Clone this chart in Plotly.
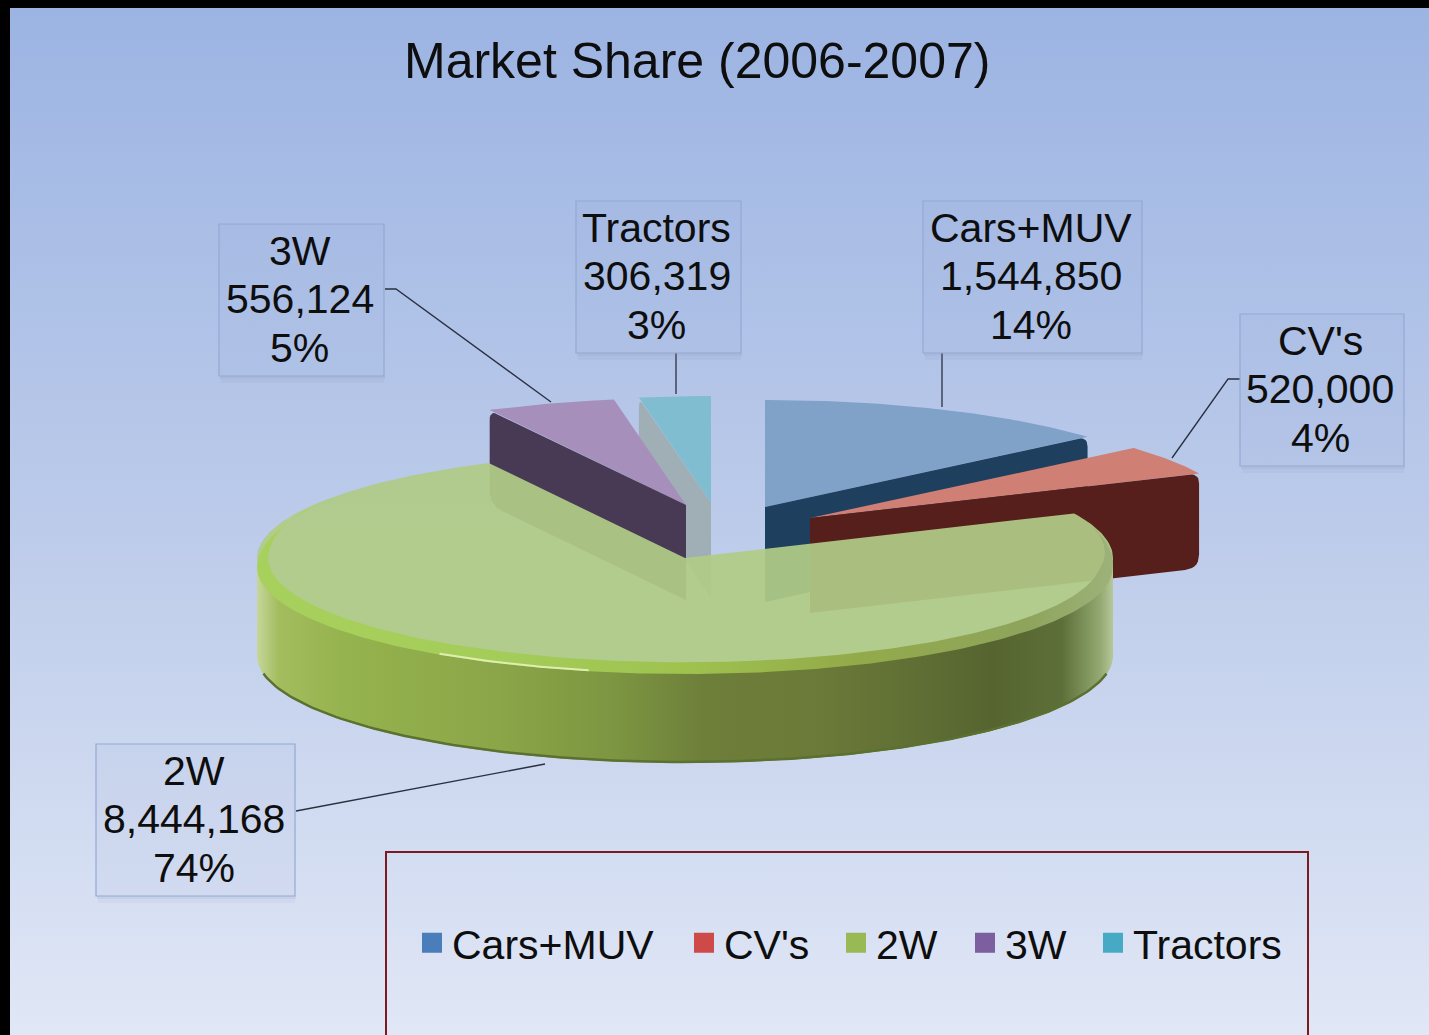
import numpy as np
import plotly.graph_objects as go

# ---- data ----
categories = ["Cars+MUV", "CV's", "2W", "3W", "Tractors"]
units = [1544850, 520000, 8444168, 556124, 306319]
percent_labels = ["14%", "4%", "74%", "5%", "3%"]
title_text = "Market Share (2006-2007)"

# ---- styles and layout ----
W, H = 1429, 1035
FONT = "Liberation Sans, Arial, sans-serif"
top_colors = ["#80a2c9", "#cf7f74", "rgba(176,203,135,0.93)", "#a68fbb", "#80bdd1"]
wall_colors = ["#1f3f5f", "#561f1c", "#7f9a40", "#483a55", "#a0aeb6"]
legend_colors = ["#4a7ebb", "#cd4a48", "#98b954", "#7d5fa0", "#46aac5"]
legend_widths = [227, 107, 84, 83, 150]
apex_x = [765, 810, 685, 686, 711]
apex_y = [507, 518, 558, 505, 503]
RX, RY, DEPTH = 428, 107, 95
FRONT_DEPTH = 98
draw_order = [4, 3, 0, 1]
wall_side = {0: 1, 1: 1, 3: 0, 4: 0}   # which radial edge shows a wall
boxes = [(923, 201, 1142, 353), (1240, 314, 1404, 466), (96, 744, 295, 896),
         (219, 224, 384, 376), (576, 201, 741, 353)]
leaders = [[(942, 353), (942, 407)],
           [(1240, 379), (1228, 379), (1172, 458)],
           [(296, 811), (545, 764)],
           [(385, 289), (396, 289), (551, 402)],
           [(676, 353), (676, 394)]]

shares = np.array(units) / sum(units)
edges = np.concatenate([[0], np.cumsum(shares)]) * 2 * np.pi


def arc(cx, cy, a0, a1, n=90, scale=1.0):
    t = np.linspace(a0, a1, n)
    return cx + scale * RX * np.sin(t), cy - scale * RY * np.cos(t)


def rounded(pts, radii):
    xs, ys = [], []
    m = len(pts)
    for i in range(m):
        p = np.array(pts[i], float)
        r = radii[i]
        if r == 0:
            xs.append(p[0]); ys.append(p[1])
            continue
        a = np.array(pts[i - 1], float)
        b = np.array(pts[(i + 1) % m], float)
        s = p + (a - p) / np.linalg.norm(a - p) * r
        e = p + (b - p) / np.linalg.norm(b - p) * r
        for u in np.linspace(0, 1, 8):
            q = (1 - u) ** 2 * s + 2 * u * (1 - u) * p + u ** 2 * e
            xs.append(q[0]); ys.append(q[1])
    return xs + xs[:1], ys + ys[:1]


fig = go.Figure()


def poly(x, y, color=None, gradient=None):
    kw = dict(x=list(x), y=list(y), mode="lines", fill="toself", line=dict(width=0),
              hoverinfo="skip", showlegend=False)
    if gradient:
        kw["fillgradient"] = gradient
    else:
        kw["fillcolor"] = color
    fig.add_trace(go.Scatter(**kw))


# background
poly([10, W, W, 10, 10], [8, 8, H, H, 8],
     gradient=dict(type="vertical",
                   colorscale=[[0, "#e0e7f6"], [0.5, "#bccbea"], [1, "#9cb4e3"]]))

# exploded slices, far ones first
for i in draw_order:
    cx, cy = apex_x[i], apex_y[i]
    a0, a1 = edges[i], edges[i + 1]
    ax, ay = arc(cx, cy, a0, a1)
    poly(np.r_[cx, ax, cx], np.r_[cy, ay, cy], top_colors[i])
    a = a1 if wall_side[i] else a0
    ox, oy = cx + RX * np.sin(a), cy - RY * np.cos(a)
    pts = [(cx, cy), (ox, oy), (ox, oy + DEPTH), (cx, cy + DEPTH)]
    wx, wy = rounded(pts, [0, 10, 14, 0])
    poly(wx, wy, wall_colors[i])

# large 2W slice: front wall, translucent top, rim
i = 2
cx, cy = apex_x[i], apex_y[i]
a0, a1 = edges[i], edges[i + 1]
ax, ay = arc(cx, cy, a0, a1, 240)
fx, fy = arc(cx, cy, np.pi / 2, 3 * np.pi / 2, 200)
wall_scale = [
    [0, "#c6d69c"], [0.025, "#a3bd5e"], [0.1, "#95b34e"], [0.28, "#8ba648"], [0.42, "#7c9541"],
    [0.52, "#6e7f3a"], [0.66, "#6b7a38"], [0.86, "#566530"], [0.94, "#5d6f38"],
    [0.985, "#93a872"], [1, "#b6c89a"]]
poly(np.r_[fx, fx[::-1]], np.r_[fy, fy[::-1] + FRONT_DEPTH],
     gradient=dict(type="horizontal", colorscale=wall_scale))
bx, by = arc(cx, cy + FRONT_DEPTH - 1, np.radians(100), np.radians(260), 140)
fig.add_trace(go.Scatter(x=bx, y=by, mode="lines", hoverinfo="skip", showlegend=False,
                         line=dict(color="#5c7030", width=2.5)))
poly(np.r_[cx, ax, cx], np.r_[cy, ay, cy], top_colors[i])

# bevelled rim, fading out towards the back of the disc
t = np.linspace(np.radians(68), np.radians(305), 240)
fade = np.clip(np.minimum(t - t[0], t[-1] - t) / np.radians(28), 0, 1)
inner = 1 - 0.026 * fade
rx1, ry1 = cx + inner * RX * np.sin(t), cy - inner * RY * np.cos(t)
rx2, ry2 = cx + RX * np.sin(t), cy + 9 * fade - RY * np.cos(t)
poly(np.r_[rx1, rx2[::-1]], np.r_[ry1, ry2[::-1]],
     gradient=dict(type="horizontal",
                   colorscale=[[0, "#a8d05c"], [0.3, "#a4cc58"], [0.5, "#9fc24f"], [0.7, "#93aa4a"],
                               [0.9, "#8ea45c"], [1, "#9db27a"]]))
hx, hy = arc(cx, cy + 8, np.radians(193), np.radians(215), 40)
fig.add_trace(go.Scatter(x=hx, y=hy, mode="lines", hoverinfo="skip", showlegend=False,
                         line=dict(color="#dfeeb0", width=2)))

# leader lines
for seg in leaders:
    fig.add_trace(go.Scatter(x=[p[0] for p in seg], y=[p[1] for p in seg], mode="lines",
                             hoverinfo="skip", showlegend=False,
                             line=dict(color="#2a3040", width=1.3)))

# legend entries
for name, col, lw in zip(categories, legend_colors, legend_widths):
    fig.add_trace(go.Scatter(x=[None], y=[None], mode="markers", name=name, legendwidth=lw,
                             marker=dict(symbol="square", size=16, color=col,
                                         line=dict(color=col, width=4))))

shapes = []
annotations = []
for k, (x0, y0, x1, y1) in enumerate(boxes):
    shapes.append(dict(type="rect", x0=x0 + 1, y0=y1, x1=x1 + 1, y1=y1 + 3, layer="above",
                       line=dict(width=0), fillcolor="rgba(110,130,170,0.16)"))
    shapes.append(dict(type="rect", x0=x0 + 2, y0=y1 + 3, x1=x1, y1=y1 + 7, layer="above",
                       line=dict(width=0), fillcolor="rgba(110,130,170,0.08)"))
    shapes.append(dict(type="rect", x0=x0, y0=y0, x1=x1, y1=y1, layer="above",
                       line=dict(color="#93a9d2", width=1.2), fillcolor="rgba(120,140,190,0.05)"))
    lines = [categories[k], f"{units[k]:,}", percent_labels[k]]
    for j, txt in enumerate(lines):
        annotations.append(dict(x=(x0 + x1) / 2 - 2, y=y0 + 26.5 + j * 48.5, xref="x", yref="y", text=txt,
                                showarrow=False, xanchor="center", yanchor="middle",
                                font=dict(family=FONT, size=41, color="#0e0e0e")))
shapes.append(dict(type="rect", x0=386, y0=852, x1=1308, y1=H + 20, layer="above",
                   line=dict(color="#7c1a20", width=2), fillcolor="rgba(255,255,255,0)"))
annotations.append(dict(x=697, y=61, xref="x", yref="y", text=title_text, showarrow=False,
                        xanchor="center", yanchor="middle",
                        font=dict(family=FONT, size=50, color="#0e0e0e")))

fig.update_layout(
    width=W, height=H, autosize=False, margin=dict(l=0, r=0, t=0, b=0, pad=0),
    paper_bgcolor="#000000", plot_bgcolor="#000000",
    xaxis=dict(range=[0, W], visible=False, fixedrange=True),
    yaxis=dict(range=[H, 0], visible=False, fixedrange=True),
    shapes=shapes, annotations=annotations,
    legend=dict(orientation="h", x=412 / W, y=1 - 943 / H, xanchor="left", yanchor="middle",
                bgcolor="rgba(0,0,0,0)", borderwidth=0, itemclick=False, itemdoubleclick=False,
                font=dict(family=FONT, size=41, color="#0e0e0e"), traceorder="normal"),
)

fig.write_html("out.html", config=dict(displayModeBar=False),
               post_script="document.body.style.margin='0';document.body.style.background='#000';document.documentElement.style.overflow='hidden';")
